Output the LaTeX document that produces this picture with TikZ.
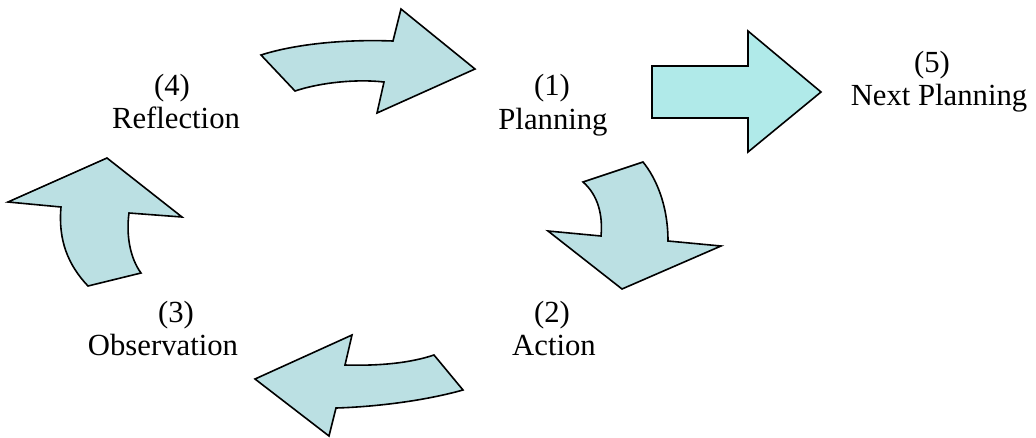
\documentclass[tikz,border=0pt]{standalone}
\usepackage{fontspec}
\setmainfont{Liberation Serif}
\definecolor{arrowfill}{HTML}{BBE0E3}
\definecolor{blockfill}{HTML}{B0EAE9}
\begin{document}
\begin{tikzpicture}[x=1pt,y=-1pt,
  cyclearrow/.style={draw=black,fill=arrowfill,line width=1.6pt,line join=miter},
  blockarrow/.style={draw=black,fill=blockfill,line width=1.6pt,line join=miter},
  lbl/.style={font=\fontsize{30.7}{33}\selectfont,anchor=base,inner sep=0pt}]
\useasboundingbox (0,0) rectangle (1036,437);
% arrow (4) -> (1)
\draw[cyclearrow] (261,55) .. controls (292,45) and (340,39) .. (393,41) -- (401,9) -- (475,69) -- (377,113) -- (384,82) .. controls (358,79) and (322,82) .. (295,91) -- cycle;
% arrow (1) -> (2)
\draw[cyclearrow] (583,182) -- (643,162) .. controls (656,178) and (668,205) .. (668,241) -- (721,246) -- (622,289) -- (548,231) -- (601,236) .. controls (603,215) and (598,195) .. (583,182) -- cycle;
% arrow (2) -> (3)
\draw[cyclearrow] (255,379) -- (352,335) -- (345,365) .. controls (380,366) and (410,363) .. (434,355) -- (463,390) .. controls (420,402) and (370,407) .. (336,408) -- (329,436) -- cycle;
% arrow (3) -> (4)
\draw[cyclearrow] (107,158) -- (182,217) -- (129,213) .. controls (126,235) and (130,258) .. (141,273) -- (88,286) .. controls (68,265) and (58,240) .. (61,207) -- (8,202) -- cycle;
% block arrow -> (5)
\draw[blockarrow] (652,66) -- (748,66) -- (748,31) -- (821,92) -- (748,152) -- (748,118) -- (652,118) -- cycle;
% labels
\node[lbl] (n1a) at (552,95) {(1)};
\node[lbl] (n1b) at (553,129) {Planning};
\node[lbl] (n2a) at (552,322) {(2)};
\node[lbl] (n2b) at (554,355) {Action};
\node[lbl] (n3a) at (176,322) {(3)};
\node[lbl] (n3b) at (163,355) {Observation};
\node[lbl] (n4a) at (172,95) {(4)};
\node[lbl] (n4b) at (176,128) {Reflection};
\node[lbl] (n5a) at (932,72) {(5)};
\node[lbl] (n5b) at (939,105) {Next Planning};
\end{tikzpicture}
\end{document}
